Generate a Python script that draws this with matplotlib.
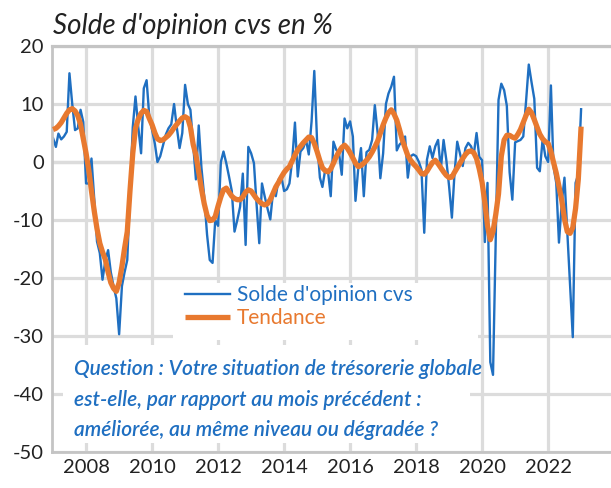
import matplotlib
matplotlib.use("Agg")
import matplotlib.pyplot as plt
import matplotlib.dates as mdates
from matplotlib.patches import Rectangle
import pandas as pd

# Solde d'opinion cvs, mensuel de janvier 2007 a janvier 2023
solde_cvs = [
    4.1, 2.6, 4.9, 3.9, 4.4, 5.2, 15.3, 10.0, 5.5, 5.8, 9.0, 6.9,            # 2007
    -3.7, -3.7, 0.6, -6.5, -13.7, -15.7, -20.3, -17.0, -15.2, -19.0, -21.5, -23.5,  # 2008
    -29.7, -21.4, -19.1, -16.9, -5.5, 6.0, 11.3, 6.0, 1.5, 12.7, 14.1, 7.8,  # 2009
    5.5, 3.1, 0.0, 1.0, 2.8, 4.7, 5.8, 6.5, 10.0, 6.0, 2.4, 5.0,            # 2010
    13.3, 10.0, 9.0, 3.0, -3.0, 6.3, -1.0, -6.0, -12.5, -16.9, -17.4, -10.0,  # 2011
    -11.0, 0.0, 1.8, -0.2, -2.5, -5.0, -12.0, -10.0, -7.7, -2.0, -14.3, 2.6,  # 2012
    1.5, -0.2, -7.0, -14.0, -3.7, -6.0, -8.0, -9.9, -5.0, -5.9, -3.0, -2.5,  # 2013
    -5.0, -4.7, -3.7, 0.4, 6.8, -2.5, 1.8, 2.4, 3.8, 1.3, 7.0, 15.7,        # 2014
    3.5, -2.7, -4.3, -1.3, -1.5, -5.9, 3.5, 2.1, 1.5, -2.2, 7.5, 5.8,       # 2015
    7.0, 4.4, -6.7, -1.0, 2.4, -5.9, 1.7, 2.1, 3.8, 9.8, 5.0, -2.8,         # 2016
    1.5, 10.0, 11.8, 13.0, 14.7, 2.0, 3.0, 3.5, 4.4, -2.7, 1.0, 1.3,        # 2017
    1.0, 0.0, -1.3, -12.2, 0.4, 2.7, 0.7, 2.7, 3.8, -1.3, 3.8, 0.4,         # 2018
    -4.2, -9.6, -2.2, 3.5, 1.5, -0.7, 2.4, 3.3, 2.7, 1.3, 5.0, 0.9,         # 2019
    0.3, -13.8, -3.6, -34.5, -36.7, -13.0, 10.7, 13.5, 12.4, 9.7, -1.8, -6.5,  # 2020
    3.4, 3.6, 3.8, 4.4, 10.3, 16.8, 13.8, 10.9, -1.0, -1.6, 3.9, 1.0,       # 2021
    0.0, 13.2, -0.7, -3.6, -13.9, -7.0, -2.7, -12.0, -21.0, -30.2, -3.6, -2.1,  # 2022
    9.1,                                                                    # 2023
]

# Tendance (courbe lissee), memes mois
tendance = [
    5.6, 5.8, 6.2, 6.8, 7.6, 8.4, 9.0, 9.2, 8.8, 8.0, 6.5, 4.0,
    1.5, -1.5, -5.0, -8.5, -11.5, -14.0, -15.5, -16.8, -19.0, -20.8, -21.8, -22.3,
    -20.8, -18.0, -15.0, -12.0, -5.0, 1.5, 5.8, 7.4, 8.4, 8.9, 8.7, 7.5,
    6.4, 5.0, 4.0, 3.7, 3.8, 4.2, 4.6, 5.2, 5.9, 6.5, 7.1, 7.6,
    7.8, 7.5, 6.0, 3.0, 1.2, -1.8, -4.6, -7.2, -9.2, -10.1, -10.0, -9.4,
    -7.6, -6.0, -4.8, -4.5, -5.2, -5.9, -6.3, -6.5, -6.5, -6.0, -5.2, -4.8,
    -5.0, -5.7, -6.3, -6.8, -7.2, -7.4, -7.2, -6.5, -5.4, -4.3, -3.5, -2.6,
    -1.8, -1.2, -0.8, 0.2, 1.2, 2.1, 2.7, 3.3, 3.8, 4.3, 4.2, 3.2,
    1.8, 0.2, -1.0, -1.5, -1.7, -1.2, -0.2, 0.9, 1.8, 2.5, 2.9, 2.4,
    1.6, 0.7, -0.2, -0.8, -0.6, -0.2, 0.3, 0.9, 1.7, 2.6, 3.6, 5.0,
    6.4, 7.6, 8.5, 9.0, 8.3, 7.2, 5.6, 3.8, 2.4, 1.1, 0.3, -0.3,
    -0.8, -1.4, -2.0, -2.1, -1.6, -0.8, -0.1, 0.3, -0.3, -1.0, -1.7, -2.3,
    -2.7, -2.6, -1.8, -1.0, -0.2, 0.6, 1.3, 1.8, 1.9, 1.6, 0.6, -1.2,
    -3.5, -7.0, -11.0, -13.4, -12.0, -9.0, -5.5, 1.0, 3.8, 4.6, 4.6, 4.3,
    4.1, 4.8, 5.6, 6.8, 8.0, 9.1, 8.5, 7.3, 6.0, 4.8, 4.0, 3.5,
    3.2, 1.8, 0.0, -1.9, -4.2, -6.6, -9.8, -12.0, -12.3, -11.3, -8.0, -3.0,
    6.1,
]

y_ticks = [-50, -40, -30, -20, -10, 0, 10, 20]
titre = "Solde d'opinion cvs en %"
label_cvs = "Solde d'opinion cvs"
label_tendance = "Tendance"
question = ("Question : Votre situation de trésorerie globale\n"
            "est-elle, par rapport au mois précédent :\n"
            "améliorée, au même niveau ou dégradée ?")

BLUE = "#1f6fc1"
ORANGE = "#e8792f"
GRID = "#dcdcdc"

assert len(solde_cvs) == len(tendance)
dates = pd.date_range("2007-01-01", periods=len(solde_cvs), freq="MS")

plt.rcParams["font.family"] = ["Lato", "DejaVu Sans"]
plt.rcParams["axes.unicode_minus"] = False

fig = plt.figure(figsize=(6.11, 4.88), dpi=100)
ax = fig.add_axes([52 / 611, 1 - 452 / 488, 559 / 611, 406 / 488])

ax.set_ylim(-50, 20)
ax.set_yticks(y_ticks)
ax.set_xlim(pd.Timestamp("2006-12-20"), pd.Timestamp("2023-11-28"))
ax.xaxis.set_major_locator(mdates.YearLocator(2))
ax.xaxis.set_major_formatter(mdates.DateFormatter("%Y"))

ax.grid(True, color=GRID, linewidth=2.3, zorder=0)
ax.set_axisbelow(True)
ax.axhline(0, color="#c4c4c4", linewidth=2.3, zorder=0.5)
ax.tick_params(length=0, labelsize=14.5, colors="#222222")
ax.tick_params(axis="y", pad=6)
ax.tick_params(axis="x", pad=5)
ax.spines["right"].set_visible(False)
ax.spines["top"].set_color("#c4c4c4")
ax.spines["top"].set_linewidth(2.3)
for side in ["left", "bottom"]:
    ax.spines[side].set_color("#c4c4c4")
    ax.spines[side].set_linewidth(2.0)

# fonds blancs de la legende et de la question
ax.add_patch(Rectangle((0.2165, 0.276), 0.546, 0.14, transform=ax.transAxes,
                       facecolor="white", edgecolor="none", zorder=1))
ax.add_patch(Rectangle((0.0197, 0.022), 0.728, 0.2415, transform=ax.transAxes,
                       facecolor="white", edgecolor="none", zorder=1))

l1, = ax.plot(dates, solde_cvs, color=BLUE, linewidth=1.7, zorder=2, label=label_cvs)
l2, = ax.plot(dates, tendance, color=ORANGE, linewidth=3.8, zorder=3,
              solid_capstyle="butt", label=label_tendance)

leg = ax.legend(handles=[l1, l2], loc="upper left", bbox_to_anchor=(0.238, 0.411),
                frameon=False, fontsize=15, handlelength=2.15, handletextpad=0.35,
                labelspacing=0.16, borderaxespad=0, borderpad=0)
for txt, c in zip(leg.get_texts(), [BLUE, ORANGE]):
    txt.set_color(c)

ax.text(0.039, 0.229, question, transform=ax.transAxes, color=BLUE,
        fontsize=15, fontstyle="italic", fontweight="semibold",
        va="top", ha="left", linespacing=1.66, zorder=4)

fig.text(53 / 611, 1 - 26 / 488, titre, fontsize=20, fontstyle="italic",
         color="#222222", va="center", ha="left")

fig.savefig("out.png", dpi=100)
